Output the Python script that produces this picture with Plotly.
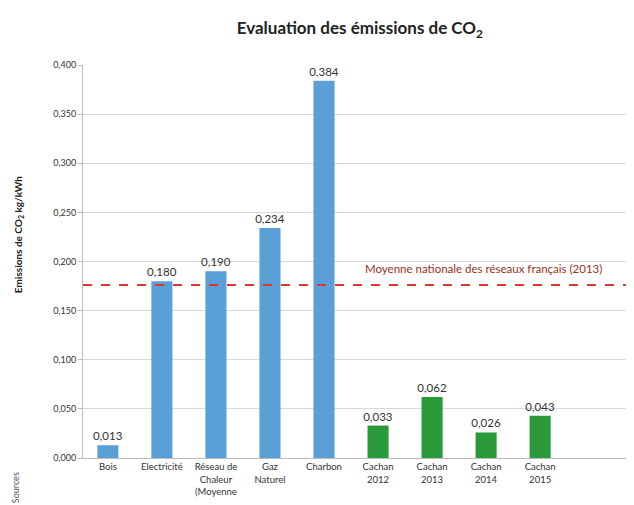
import plotly.graph_objects as go

categories = ["Bois", "Electricité", "Réseau de<br>Chaleur<br>(Moyenne", "Gaz<br>Naturel", "Charbon",
              "Cachan<br>2012", "Cachan<br>2013", "Cachan<br>2014", "Cachan<br>2015"]
values = [0.013, 0.180, 0.190, 0.234, 0.384, 0.033, 0.062, 0.026, 0.043]
colors = ["#5a9fd6"] * 5 + ["#2a9a3a"] * 4
national_avg = 0.176
y_ticks = [0.0, 0.05, 0.10, 0.15, 0.20, 0.25, 0.30, 0.35, 0.40]

xs = list(range(len(categories)))
labels = [f"{v:.3f}".replace(".", ",") for v in values]

fig = go.Figure()
fig.add_trace(go.Bar(
    x=xs, y=values, marker=dict(color=colors, line=dict(width=0)),
    width=0.39, text=labels, textposition="outside", constraintext="none",
    textfont=dict(family="Lato, sans-serif", size=11.5, color="#333333"),
    cliponaxis=False, hoverinfo="skip",
))

fig.add_shape(type="line", xref="paper", yref="y", x0=0, x1=1,
              y0=national_avg, y1=national_avg,
              line=dict(color="#e0352b", width=2, dash="dash"), layer="above")
fig.add_annotation(xref="x", yref="y", x=6.95, y=national_avg, yshift=17,
                   text="Moyenne nationale des réseaux français (2013)", showarrow=False,
                   font=dict(family="Lato, sans-serif", size=11.5, color="#9c3020"))

fig.add_annotation(xref="paper", yref="paper", x=-75/549, y=-0.12, text="Sources",
                   textangle=-90, showarrow=False, xanchor="left", yanchor="bottom",
                   font=dict(family="Lato, sans-serif", size=9, color="#555555"))

fig.add_annotation(xref="paper", yref="paper", x=-65/549, y=0.567,
                   text="<b>Emissions de CO<sub>2</sub> kg/kWh</b>",
                   textangle=-90, showarrow=False, xanchor="center", yanchor="middle",
                   font=dict(family="Lato, sans-serif", size=10, color="#222222"))

fig.update_layout(
    width=634, height=505,
    paper_bgcolor="white", plot_bgcolor="white",
    separators=", ",
    margin=dict(l=75, r=10, t=57, b=55),
    title=dict(text="<b>Evaluation des émissions de CO<sub>2</sub></b>", x=0.555, xanchor="center",
               y=0.96, yanchor="middle",
               font=dict(family="Lato, sans-serif", size=17, color="#222222")),
    showlegend=False,
    xaxis=dict(tickmode="array", tickvals=xs, ticktext=categories,
               range=[-0.46, 9.7], showgrid=False, zeroline=False,
               showline=True, linecolor="#bbbbbb", linewidth=1, ticks="",
               tickfont=dict(family="Lato, sans-serif", size=9.5, color="#333333")),
    yaxis=dict(range=[0, 0.4], tickvals=y_ticks, tickformat=".3f",
               showgrid=True, gridcolor="#d9d9d9", gridwidth=1,
               showline=True, linecolor="#bbbbbb", linewidth=1, zeroline=False,
               ticks="outside", ticklen=4, tickcolor="#bbbbbb",
               tickfont=dict(family="Lato, sans-serif", size=9, color="#333333")),
)

fig.write_html("out.html")
